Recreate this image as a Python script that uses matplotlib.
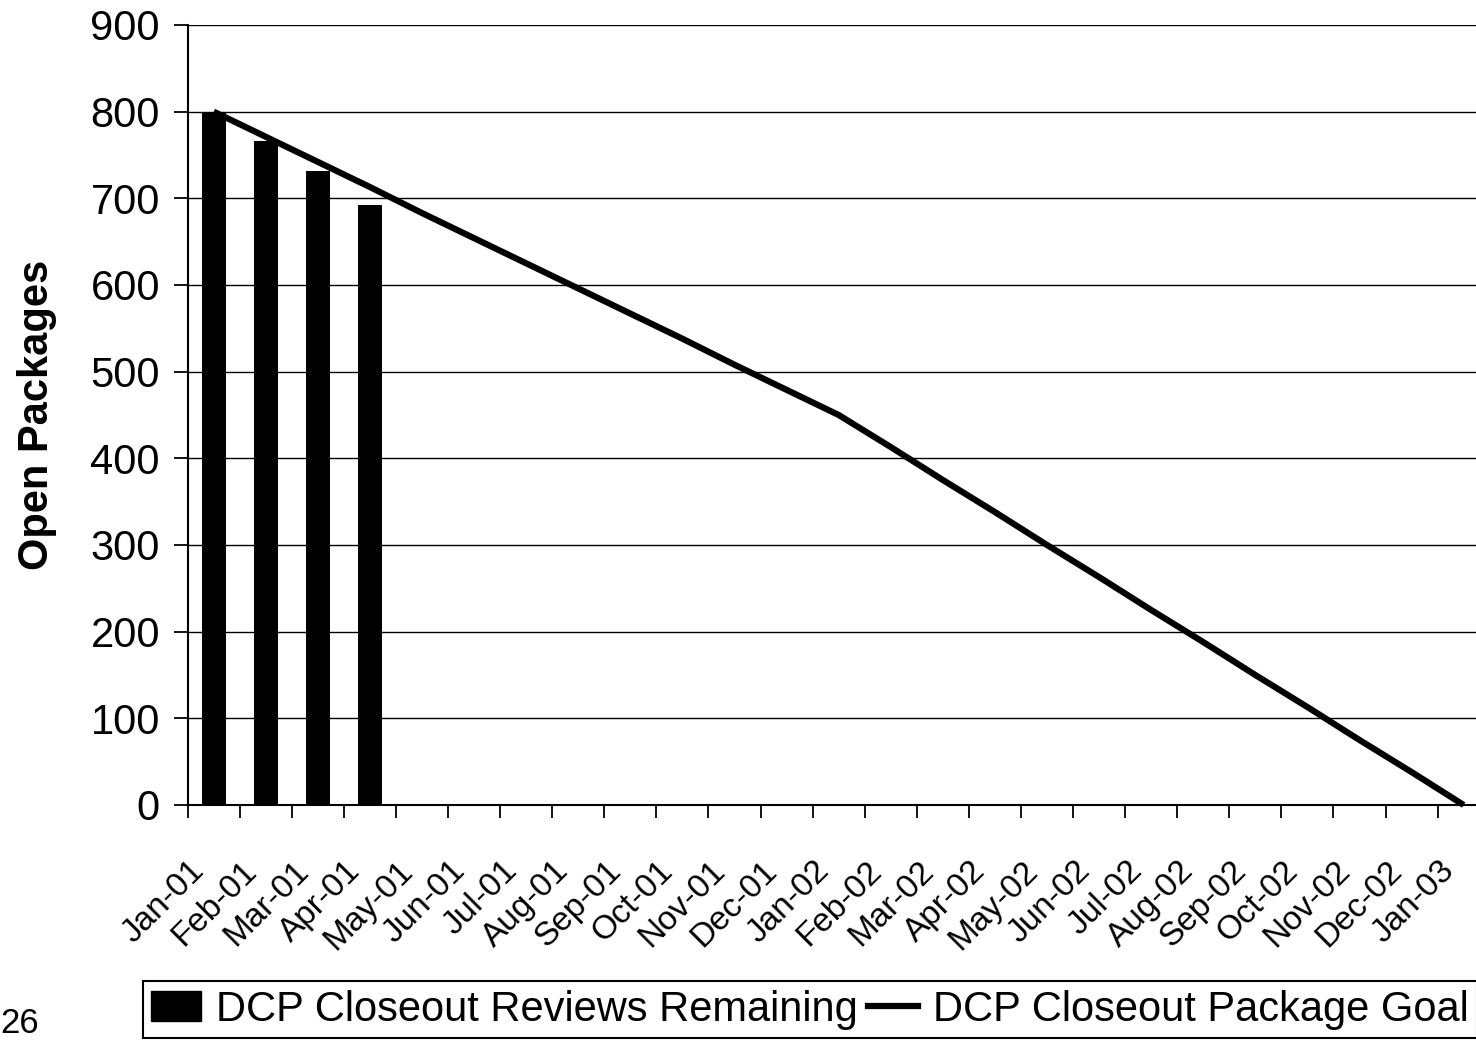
import numpy as np
import matplotlib
matplotlib.use("Agg")
import matplotlib.pyplot as plt
from matplotlib.patches import Patch
from matplotlib.lines import Line2D
from matplotlib.transforms import ScaledTranslation

# ─────────────────────────────────────────────
# DATA
# ─────────────────────────────────────────────
MONTHS = ["Jan-01", "Feb-01", "Mar-01", "Apr-01", "May-01", "Jun-01",
          "Jul-01", "Aug-01", "Sep-01", "Oct-01", "Nov-01", "Dec-01",
          "Jan-02", "Feb-02", "Mar-02", "Apr-02", "May-02", "Jun-02",
          "Jul-02", "Aug-02", "Sep-02", "Oct-02", "Nov-02", "Dec-02",
          "Jan-03"]

# actual reviews remaining (only first four months reported)
REVIEWS_REMAINING = [800, 766, 731, 692]

# closeout package goal, one value per month
PACKAGE_GOAL = [800, 771, 742, 713, 683, 654, 625, 596, 567, 538, 508, 479,
                450, 413, 375, 338, 300, 263, 225, 188, 150, 113, 75, 38, 0]

Y_TICKS = [0, 100, 200, 300, 400, 500, 600, 700, 800, 900]

LABEL_BARS = "DCP Closeout Reviews Remaining"
LABEL_LINE = "DCP Closeout Package Goal"
YLABEL = "Open Packages"
PAGE_NO = "26"

# ─────────────────────────────────────────────
# STYLE
# ─────────────────────────────────────────────
plt.rcParams.update({
    "font.family": ["Liberation Sans", "DejaVu Sans"],
})

W, H = 1476, 1042
fig = plt.figure(figsize=(W / 100, H / 100), dpi=100)

# axes run a little past the right edge of the page, like the scan
left_px, bottom_px, top_px = 187.7, 805, 25
cat_px = 52.08
n = len(MONTHS)
ax = fig.add_axes([left_px / W, 1 - bottom_px / H,
                   n * cat_px / W, (bottom_px - top_px) / H])

x = np.arange(n)

# bars
ax.bar(x[:len(REVIEWS_REMAINING)], REVIEWS_REMAINING, width=0.46,
       color="black", zorder=3)

# goal line
ax.plot(x, PACKAGE_GOAL, color="black", lw=4.5, zorder=4,
        solid_capstyle="butt", clip_on=False)

ax.set_xlim(-0.5, n - 0.5)
ax.set_ylim(0, 900)

# gridlines
ax.set_yticks(Y_TICKS)
for v in Y_TICKS[1:]:
    ax.axhline(v, color="black", lw=1.0, zorder=1)

# spines
for s in ["top", "right"]:
    ax.spines[s].set_visible(False)
for s in ["left", "bottom"]:
    ax.spines[s].set_linewidth(1.5)
    ax.spines[s].set_zorder(5)

ax.tick_params(axis="y", direction="out", length=10, width=1.3,
               labelsize=30, pad=10)

# x: boundary ticks (minor) + centred labels (major, no mark)
ax.set_xticks(np.arange(-0.5, n, 1.0), minor=True)
ax.set_xticks(x)
ax.set_xticklabels(MONTHS, rotation=45, ha="right", va="top",
                   rotation_mode="anchor", fontsize=24)
ax.tick_params(axis="x", which="major", length=0, pad=36)
ax.tick_params(axis="x", which="minor", direction="out", length=9.5,
               width=1.3)
shift = ScaledTranslation(-18 / 72, 0, fig.dpi_scale_trans)
for lab in ax.get_xticklabels():
    lab.set_transform(lab.get_transform() + shift)

ax.set_ylabel(YLABEL, fontsize=30, fontweight="bold")
ax.yaxis.set_label_coords(-0.100, 0.5)

# legend
handles = [Patch(facecolor="black", edgecolor="black"),
           Line2D([0], [0], color="black", lw=4.5)]
leg = fig.legend(handles, [LABEL_BARS, LABEL_LINE], ncol=2,
                 loc="lower left", bbox_to_anchor=(143 / W, 4 / H),
                 fontsize=30, frameon=True, fancybox=False,
                 edgecolor="black", framealpha=1, borderpad=0.2,
                 handlelength=1.2, handleheight=0.75, handletextpad=0.35,
                 columnspacing=0.25, borderaxespad=0)
leg.get_frame().set_linewidth(1.5)

# page number
fig.text(0 / W, 2 / H, PAGE_NO, fontsize=25, ha="left", va="bottom")

fig.savefig("out.png", dpi=100)
